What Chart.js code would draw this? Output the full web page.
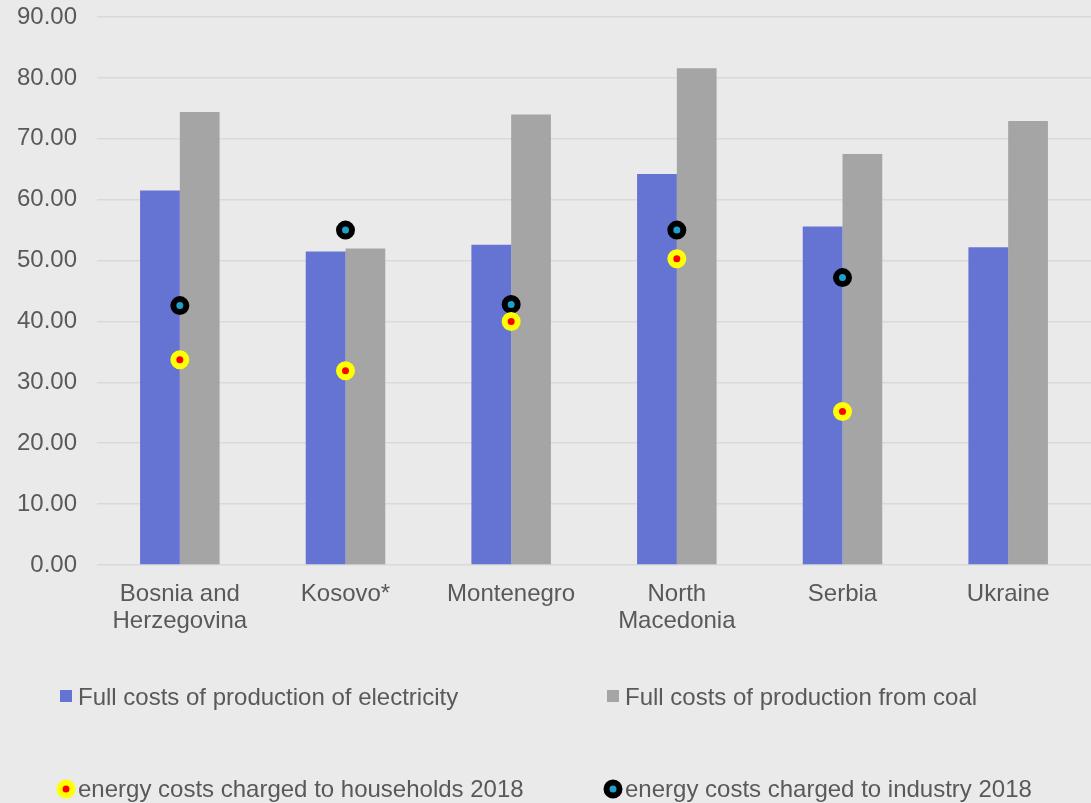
<!DOCTYPE html>
<html>
<head>
<meta charset="utf-8">
<script src="https://cdn.jsdelivr.net/npm/chart.js@4.4.1/dist/chart.umd.min.js"></script>
<style>
  html, body { margin: 0; padding: 0; background: #EAEAEA; }
  #wrap { position: relative; width: 1091px; height: 803px; }
</style>
</head>
<body>
<div id="wrap"><canvas id="chartCosts"></canvas></div>
<script>
/* =============================================
   DATA
   ============================================= */
const countries = [
  ['Bosnia and', 'Herzegovina'],
  'Kosovo*',
  'Montenegro',
  ['North', 'Macedonia'],
  'Serbia',
  'Ukraine'
];
const fullCostElectricity = [61.5, 51.5, 52.6, 64.2, 55.6, 52.2];
const fullCostCoal = [74.4, 52.0, 74.0, 81.6, 67.5, 72.9];
const householdCharge2018 = [33.7, 31.9, 40.0, 50.3, 25.2, null];
const industryCharge2018 = [42.6, 55.0, 42.8, 55.0, 47.2, null];

const seriesNames = [
  'Full costs of production of electricity',
  'Full costs of production from coal',
  'energy costs charged to households 2018',
  'energy costs charged to industry 2018'
];

const FONT = '"Liberation Sans", Arial, sans-serif';
const TEXT = '#595959';

/* legend drawn as a 2x2 grid under the axis */
const gridLegend = {
  id: 'gridLegend',
  afterDraw(chart) {
    const ctx = chart.ctx;
    const cols = [58, 605];
    const rows = [697, 789];
    ctx.save();
    ctx.font = '24px ' + FONT;
    ctx.textBaseline = 'middle';
    chart.data.datasets.forEach((ds, i) => {
      const x = cols[i % 2];
      const y = rows[Math.floor(i / 2)];
      if (ds.type === 'bar') {
        ctx.fillStyle = ds.backgroundColor;
        ctx.fillRect(x + 2, y - 7, 12, 12);
      } else {
        ctx.beginPath();
        ctx.arc(x + 8, y, 6.5, 0, Math.PI * 2);
        ctx.fillStyle = ds.pointBackgroundColor;
        ctx.fill();
        ctx.lineWidth = 6;
        ctx.strokeStyle = ds.pointBorderColor;
        ctx.stroke();
      }
      ctx.fillStyle = TEXT;
      ctx.fillText(ds.label, x + 20, y + 1);
    });
    ctx.restore();
  }
};

const bgFill = {
  id: 'bgFill',
  beforeDraw(chart) {
    const ctx = chart.ctx;
    ctx.save();
    ctx.fillStyle = '#EAEAEA';
    ctx.fillRect(0, 0, chart.width, chart.height);
    ctx.restore();
  }
};

function pointSet(label, data, fill, ring) {
  return {
    type: 'line',
    label,
    data,
    showLine: false,
    pointRadius: 6.5,
    pointHoverRadius: 6.5,
    pointBorderWidth: 6,
    pointBackgroundColor: fill,
    pointBorderColor: ring,
    order: 0
  };
}

new Chart(document.getElementById('chartCosts'), {
  data: {
    labels: countries,
    datasets: [
      {
        type: 'bar',
        label: seriesNames[0],
        data: fullCostElectricity,
        backgroundColor: '#6574D2',
        categoryPercentage: 0.48,
        barPercentage: 1,
        order: 1
      },
      {
        type: 'bar',
        label: seriesNames[1],
        data: fullCostCoal,
        backgroundColor: '#A5A5A5',
        categoryPercentage: 0.48,
        barPercentage: 1,
        order: 1
      },
      pointSet(seriesNames[2], householdCharge2018, '#FF0000', '#FFFF00'),
      pointSet(seriesNames[3], industryCharge2018, '#1E9FCC', '#000000')
    ]
  },
  options: {
    responsive: true,
    maintainAspectRatio: false,
    animation: false,
    layout: { autoPadding: false, padding: { top: 17, right: -3, bottom: 160, left: 0 } },
    plugins: {
      legend: { display: false },
      tooltip: { enabled: false }
    },
    scales: {
      x: {
        afterFit(scale) { scale.paddingLeft = 0; scale.paddingRight = 0; },
        grid: { display: false },
        border: { display: false },
        ticks: {
          color: TEXT,
          font: { family: FONT, size: 24, lineHeight: 1.125 },
          padding: 8,
          maxRotation: 0,
          autoSkip: false
        }
      },
      y: {
        min: 0,
        max: 90,
        afterFit(scale) { scale.width = 97; scale.paddingTop = 0; scale.paddingBottom = 0; },
        border: { display: false },
        grid: { color: '#D9D9D9', lineWidth: 1.5, drawTicks: false },
        ticks: {
          stepSize: 10,
          color: TEXT,
          font: { family: FONT, size: 24 },
          padding: 20,
          callback: v => v.toFixed(2)
        }
      }
    }
  },
  plugins: [bgFill, gridLegend]
});
</script>
</body>
</html>
